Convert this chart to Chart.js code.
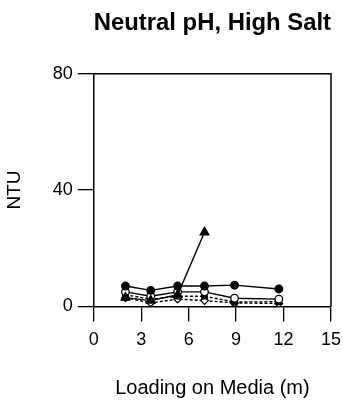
<!DOCTYPE html>
<html>
<head>
<meta charset="utf-8">
<script src="https://cdn.jsdelivr.net/npm/chart.js@4/dist/chart.umd.min.js"></script>
<style>
  html, body { margin: 0; padding: 0; background: #fff; }
  #wrap { width: 343px; height: 401px; }
</style>
</head>
<body>
<div id="wrap"><canvas id="myChart" width="343" height="401"></canvas></div>
<script>
// loading on media (m) for each run
var loadingA = [2, 3.6, 5.3, 7, 8.9, 11.7];
var loadingB = [2, 3.6, 5.3, 7];

// turbidity (NTU)
var filledCircle = [7, 5.5, 7, 7, 7.3, 6];
var triangleRun = [3, 2, 4, 25.5];
var openCircle = [5, 3.5, 5, 5, 2.8, 2.5];
var squareRun = [4, 2.5, 3.5, 3.5, 1.5, 1.6];
var diamondRun = [3, 1.2, 2.5, 2, 1.2, 1];

var xTicks = [0, 3, 6, 9, 12, 15];
var yTicks = [0, 40, 80];

function pairs(xs, ys) {
    var out = [];
    for (var i = 0; i < ys.length; i++) {
        out.push({ x: xs[i], y: ys[i] });
    }
    return out;
}

function series(xs, ys, style, fill, dash) {
    return {
        data: pairs(xs, ys),
        showLine: true,
        borderColor: '#000',
        borderWidth: 1.4,
        borderDash: dash || [],
        pointStyle: style,
        pointRadius: style === 'triangle' ? 5 : 3.8,
        pointBackgroundColor: fill,
        pointBorderColor: '#000',
        pointBorderWidth: 1.3
    };
}

// box round the plot area
var frame = {
    id: 'frame',
    afterDraw: function(chart) {
        var a = chart.chartArea, c = chart.ctx;
        c.save();
        c.strokeStyle = '#000';
        c.lineWidth = 1.5;
        c.beginPath();
        c.moveTo(a.left, a.top);
        c.lineTo(a.right, a.top);
        c.lineTo(a.right, a.bottom);
        c.stroke();
        c.restore();
    }
};

var font = "'Liberation Sans', Arial, sans-serif";

var ctx = document.getElementById('myChart').getContext('2d');
var chart = new Chart(ctx, {
    type: 'scatter',
    data: {
        datasets: [
            series(loadingA, filledCircle, 'circle', '#000'),
            series(loadingB, triangleRun, 'triangle', '#000'),
            series(loadingA, openCircle, 'circle', '#fff'),
            series(loadingA, squareRun, 'rect', '#000', [3, 2]),
            series(loadingA, diamondRun, 'rectRot', '#fff', [3, 2])
        ]
    },
    options: {
        responsive: false,
        animation: false,
        layout: { padding: { left: 3, right: 12, top: 4, bottom: 1 } },
        plugins: {
            legend: { display: false },
            tooltip: { enabled: false },
            title: {
                display: true,
                text: 'Neutral pH, High Salt',
                fullSize: false,
                color: '#000',
                font: { family: font, size: 24, weight: 'bold' },
                padding: { top: 5, bottom: 36 }
            }
        },
        scales: {
            x: {
                type: 'linear',
                min: 0,
                max: 15,
                afterBuildTicks: function(s) { s.ticks = xTicks.map(function(v) { return { value: v }; }); },
                afterFit: function(s) { s.paddingRight = 0; },
                ticks: { color: '#000', font: { family: font, size: 18 }, padding: 8 },
                grid: { drawOnChartArea: false, color: '#000', tickLength: 15, lineWidth: 1.3 },
                border: { color: '#000', width: 1.5 },
                title: {
                    display: true,
                    text: 'Loading on Media (m)',
                    color: '#000',
                    font: { family: font, size: 20 },
                    padding: { top: 17, bottom: 0 }
                }
            },
            y: {
                min: 0,
                max: 80,
                afterBuildTicks: function(s) { s.ticks = yTicks.map(function(v) { return { value: v }; }); },
                ticks: { color: '#000', font: { family: font, size: 18 }, padding: 5 },
                grid: { drawOnChartArea: false, color: '#000', tickLength: 16, lineWidth: 1.3 },
                border: { color: '#000', width: 1.5 },
                title: {
                    display: true,
                    text: 'NTU',
                    color: '#000',
                    font: { family: font, size: 19 },
                    padding: { top: 0, bottom: 22 }
                }
            }
        }
    },
    plugins: [frame]
});
</script>
</body>
</html>
